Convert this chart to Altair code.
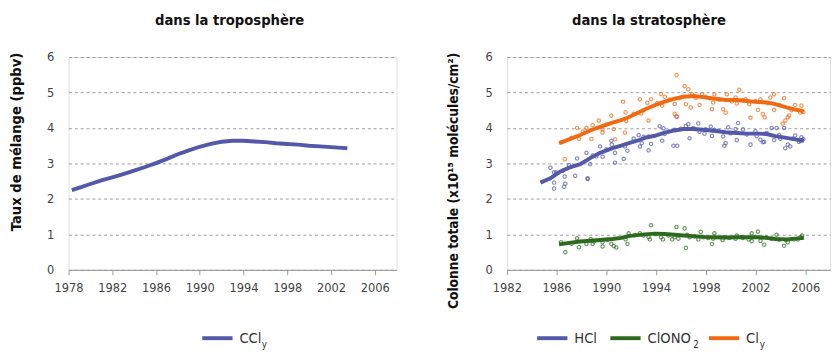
import altair as alt
import pandas as pd

FONT = "DejaVu Sans Condensed, DejaVu Sans, sans-serif"

# ---- Left panel: CCly (troposphere)
ccly_year = [1978.3, 1979.0, 1980.0, 1981.0, 1982.0, 1983.0, 1984.0, 1985.0, 1986.0, 1987.0,
             1988.0, 1989.0, 1990.0, 1991.0, 1992.0, 1993.0, 1994.0, 1995.0, 1996.0, 1997.0,
             1998.0, 1999.0, 2000.0, 2001.0, 2002.0, 2003.0, 2003.5]
ccly_val = [2.25, 2.32, 2.42, 2.52, 2.61, 2.70, 2.80, 2.90, 3.01, 3.13,
            3.26, 3.37, 3.47, 3.55, 3.61, 3.64, 3.64, 3.62, 3.60, 3.57,
            3.55, 3.53, 3.50, 3.48, 3.46, 3.44, 3.43]

# ---- Right panel: smoothed lines (stratosphere)
line_year = [1986.2, 1987.0, 1987.9, 1988.7, 1989.5, 1990.5, 1991.2, 1991.8, 1992.5, 1993.1,
             1993.9, 1994.7, 1995.5, 1996.2, 1997.0, 1997.8, 1998.6, 1999.6, 2000.5, 2001.3,
             2002.2, 2002.9, 2003.6, 2004.5, 2005.2, 2005.9]
hcl_line_year = [1984.7, 1985.5] + line_year
hcl_line_val = [2.46, 2.58, 2.75, 2.88, 2.98, 3.15, 3.30, 3.43, 3.50, 3.57, 3.64, 3.72,
                3.78, 3.87, 3.93, 3.97, 3.97, 3.95, 3.92, 3.88, 3.86, 3.84,
                3.84, 3.83, 3.77, 3.72, 3.68, 3.64]
cly_line_val = [3.57, 3.68, 3.80, 3.93, 4.03, 4.15, 4.22, 4.30, 4.42, 4.52,
                4.64, 4.74, 4.83, 4.88, 4.90, 4.87, 4.83, 4.79, 4.79, 4.76,
                4.73, 4.72, 4.67, 4.58, 4.52, 4.47]
clono2_line_val = [0.72, 0.76, 0.80, 0.82, 0.84, 0.87, 0.90, 0.95, 0.98, 1.00,
                   1.02, 1.01, 0.99, 0.97, 0.95, 0.93, 0.92, 0.91, 0.92, 0.92,
                   0.92, 0.90, 0.87, 0.86, 0.88, 0.90]

# ---- Right panel: individual measurements
hcl_pt_year = [1985.5, 1985.95, 1986.5, 1986.65, 1987.5, 1987.65, 1988.4, 1988.5, 1988.7, 1988.9,
               1989.5, 1989.7, 1990.4, 1990.45, 1990.7, 1990.7, 1991.4, 1991.5, 1991.7, 1992.6,
               1992.7, 1992.85, 1993.4, 1993.4, 1993.6, 1994.3, 1994.5, 1994.6, 1994.7, 1995.4,
               1995.7, 1995.65, 1995.5, 1996.4, 1996.7, 1996.6, 1997.4, 1997.5, 1997.9, 1998.4,
               1998.5, 1998.7, 1999.4, 1999.5, 1999.6, 1999.8, 2000.4, 2000.6, 2000.5, 2001.0,
               2001.6, 2002.0, 2002.1, 2002.4, 2002.6, 2002.7, 2003.3, 2003.5, 2003.7, 2004.3,
               2004.4, 2004.6, 2004.8, 2005.2, 2005.5, 2005.7, 2005.6, 1985.8, 1985.8, 1985.8,
               1986.6, 1986.7, 1988.5, 1987.0, 1989.2, 1990.0, 1992.2, 1993.0, 1995.0, 1996.0,
               1997.0, 1998.0, 1999.0, 2000.0, 2001.3, 2002.9, 2003.9, 2004.0, 2005.0, 2005.85]
hcl_pt_val = [2.88, 2.75, 2.80, 2.63, 2.65, 3.14, 3.30, 2.56, 2.98, 3.22,
              3.48, 3.19, 3.64, 3.53, 3.30, 3.02, 3.13, 3.48, 3.36, 3.80,
              3.48, 3.57, 3.37, 3.76, 3.55, 4.05, 3.64, 3.99, 3.83, 3.50,
              3.50, 4.32, 3.95, 4.05, 3.71, 4.11, 4.13, 3.89, 3.84, 4.04,
              3.78, 3.95, 3.76, 3.50, 3.57, 4.02, 3.97, 4.14, 3.66, 3.96,
              3.53, 3.91, 3.77, 3.67, 3.60, 3.61, 4.00, 3.66, 4.00, 4.00,
              3.43, 3.53, 3.48, 3.79, 3.61, 3.74, 3.64, 2.29, 2.46, 2.75,
              2.34, 2.43, 2.58, 2.95, 3.20, 3.40, 3.70, 3.75, 3.90, 3.98,
              4.00, 3.96, 3.92, 3.85, 3.82, 3.86, 3.80, 3.70, 3.70, 3.68]

cly_pt_year = [1986.66, 1987.65, 1987.8, 1988.4, 1988.8, 1988.9, 1989.4, 1989.7, 1989.7, 1990.4,
               1990.6, 1990.7, 1991.35, 1991.55, 1991.6, 1991.5, 1992.7, 1992.8, 1993.4, 1993.3,
               1993.6, 1994.4, 1994.5, 1994.7, 1995.5, 1995.65, 1995.7, 1995.5, 1995.9, 1996.3,
               1996.6, 1996.4, 1996.8, 1996.9, 1997.5, 1997.7, 1998.3, 1998.5, 1998.6, 1998.7,
               1999.4, 1999.6, 1999.7, 2000.4, 2000.5, 2000.7, 2001.2, 2001.5, 2001.6, 2002.2,
               2002.4, 2002.6, 2002.75, 2003.2, 2003.5, 2003.5, 2004.3, 2004.2, 2004.4, 2004.6,
               2004.7, 2005.2, 2005.6, 2005.7, 1986.4, 1987.2, 1988.1, 1990.0, 1992.2, 1993.0,
               1994.1, 1995.1, 1997.2, 1998.0, 1999.1, 2000.1, 2001.0, 2002.0, 2003.0, 2003.9,
               2004.9, 2005.85]
cly_pt_val = [3.12, 4.00, 3.69, 4.00, 3.69, 4.08, 4.21, 3.96, 3.87, 4.35,
              3.97, 3.68, 4.74, 4.44, 4.19, 3.87, 4.81, 4.41, 4.21, 4.71,
              4.81, 4.96, 4.63, 4.88, 4.40, 5.49, 4.32, 4.68, 4.84, 5.18,
              5.09, 4.67, 4.58, 4.95, 4.65, 4.95, 4.84, 4.53, 4.72, 4.95,
              4.53, 4.43, 4.95, 4.86, 4.69, 5.08, 4.81, 4.67, 4.29, 4.51,
              4.81, 4.39, 4.30, 4.86, 4.95, 4.51, 4.84, 4.12, 4.21, 4.30,
              4.35, 4.65, 4.44, 4.63, 3.60, 3.72, 3.90, 4.10, 4.40, 4.50,
              4.70, 4.80, 4.85, 4.88, 4.80, 4.75, 4.78, 4.76, 4.70, 4.65,
              4.50, 4.45]

clono2_pt_year = [1986.35, 1986.7, 1987.65, 1987.8, 1988.4, 1988.75, 1988.9, 1989.7, 1989.7, 1990.4,
                  1990.6, 1990.8, 1991.55, 1991.7, 1991.8, 1992.7, 1993.4, 1993.5, 1993.6, 1994.0,
                  1994.4, 1994.55, 1995.3, 1995.5, 1995.65, 1995.8, 1996.3, 1996.4, 1996.5, 1996.7,
                  1997.4, 1997.6, 1997.8, 1998.5, 1998.6, 1998.7, 1999.35, 1999.5, 2000.4, 2000.5,
                  2001.0, 2001.45, 2001.7, 2001.7, 2002.2, 2002.4, 2002.7, 2003.3, 2003.7, 2004.3,
                  2004.45, 2004.6, 2005.4, 2005.6, 2005.75, 1987.2, 1989.0, 1990.1, 1992.3, 1993.0,
                  1995.0, 1997.1, 1998.2, 1999.9, 2000.9, 2002.9, 2003.9, 2005.1]
clono2_pt_val = [0.78, 0.50, 0.89, 0.64, 0.73, 0.87, 0.73, 0.78, 0.66, 0.73,
                 0.67, 0.63, 0.86, 0.73, 1.03, 1.03, 0.92, 0.86, 1.26, 1.01,
                 0.92, 0.86, 0.86, 0.92, 1.21, 0.88, 1.17, 0.62, 0.99, 0.92,
                 0.86, 1.07, 0.92, 0.73, 0.88, 1.03, 0.84, 0.92, 0.88, 0.97,
                 0.90, 0.86, 0.81, 1.03, 1.08, 0.82, 0.71, 0.88, 0.99, 0.68,
                 0.84, 0.78, 0.86, 0.92, 0.97, 0.74, 0.80, 0.85, 0.98, 0.97,
                 0.97, 0.94, 0.90, 0.90, 0.92, 0.91, 0.85, 0.86]

left_ticks = [1978, 1982, 1986, 1990, 1994, 1998, 2002, 2006]
right_ticks = [1982, 1986, 1990, 1994, 1998, 2002, 2006]
y_ticks = [0, 1, 2, 3, 4, 5, 6]

series_names = ["HCl", "ClONO2", "Cly"]
series_colors = ["#5458A8", "#2C6B1E", "#F06A14"]
BLUE, GREEN, ORANGE = series_colors

# ---------- data frames
df_ccly = pd.DataFrame({"year": ccly_year, "val": ccly_val})
df_lines = pd.concat([
    pd.DataFrame({"year": hcl_line_year, "val": hcl_line_val, "s": "HCl"}),
    pd.DataFrame({"year": line_year, "val": clono2_line_val, "s": "ClONO2"}),
    pd.DataFrame({"year": line_year, "val": cly_line_val, "s": "Cly"}),
])
df_pts = pd.concat([
    pd.DataFrame({"year": hcl_pt_year, "val": hcl_pt_val, "s": "HCl"}),
    pd.DataFrame({"year": clono2_pt_year, "val": clono2_pt_val, "s": "ClONO2"}),
    pd.DataFrame({"year": cly_pt_year, "val": cly_pt_val, "s": "Cly"}),
])
one = pd.DataFrame({"k": [0]})

W_L, W_R, H = 336, 331, 218
color_scale = alt.Scale(domain=series_names, range=series_colors)


def x_axis(ticks):
    return alt.Axis(values=ticks, format="d", grid=False, tickSize=5, tickColor="#999",
                    domainColor="#999", labelColor="#444", labelFont=FONT, labelFontSize=13,
                    labelPadding=7, labelFlush=False, title=None)


def y_axis(title, size, tx):
    return alt.Axis(values=y_ticks, grid=True, gridDash=[3, 3], gridColor="#999",
                    domain=False, ticks=False, labelPadding=15, labelColor="#444",
                    labelFont=FONT, labelFontSize=13, labelFlush=False, title=title,
                    titleFont=FONT, titleFontSize=size, titleFontWeight="bold",
                    titleColor="#111", titleX=tx, titleY=-5, titleAlign="right",
                    titleBaseline="bottom")


def legend_item(x0, label, color, sub="", sub_dx=0):
    items = [
        alt.Chart(one).mark_rule(color=color, strokeWidth=4).encode(
            x=alt.value(x0), x2=alt.value(x0 + 31), y=alt.value(288)),
        alt.Chart(one).mark_text(align="left", baseline="middle", font=FONT,
                                 fontSize=15, color="#333").encode(
            x=alt.value(x0 + 38), y=alt.value(288), text=alt.value(label)),
    ]
    if sub:
        items.append(alt.Chart(one).mark_text(align="left", baseline="middle", font=FONT,
                                              fontSize=10, color="#333").encode(
            x=alt.value(x0 + 38 + sub_dx), y=alt.value(295), text=alt.value(sub)))
    return items


left_line = alt.Chart(df_ccly).mark_line(color=BLUE, strokeWidth=4).encode(
    x=alt.X("year:Q", scale=alt.Scale(domain=[1978, 2008], nice=False, zero=False),
            axis=x_axis(left_ticks)),
    y=alt.Y("val:Q", scale=alt.Scale(domain=[0, 6], nice=False),
            axis=y_axis("Taux de mélange (ppbv)", 15, -46)),
)
left = alt.layer(left_line, *legend_item(137, "CCl", BLUE, "y", 23)).properties(
    width=W_L, height=H,
    title=alt.TitleParams("dans la troposphère", font=FONT, fontSize=15, fontWeight="bold",
                          color="#111", anchor="middle", frame="group",
                          baseline="alphabetic", offset=12, dx=-3),
)

xr = alt.X("year:Q", scale=alt.Scale(domain=[1982, 2008], nice=False, zero=False),
           axis=x_axis(right_ticks))
yr = alt.Y("val:Q", scale=alt.Scale(domain=[0, 6], nice=False),
           axis=y_axis("Colonne totale (x10¹⁵ molécules/cm²)", 14, -48))
pts = alt.Chart(df_pts).mark_point(filled=False, size=12, strokeWidth=1.2).encode(
    x=xr, y=yr, color=alt.Color("s:N", scale=color_scale, legend=None))
lines = alt.Chart(df_lines).mark_line(strokeWidth=4).encode(
    x=xr, y=yr, color=alt.Color("s:N", scale=color_scale, legend=None), detail="s:N")
right = alt.layer(
    pts, lines,
    *legend_item(31, "HCl", BLUE),
    *legend_item(106, "ClONO", GREEN, "2", 47),
    *legend_item(207, "Cl", ORANGE, "y", 14),
).properties(
    width=W_R, height=H,
    title=alt.TitleParams("dans la stratosphère", font=FONT, fontSize=15, fontWeight="bold",
                          color="#111", anchor="middle", frame="group",
                          baseline="alphabetic", offset=12, dx=-20),
)

chart = alt.hconcat(left, right, spacing=49).properties(padding=0).configure_view(
    stroke=None).configure(background="white")
chart.save("out.html", embed_options={"renderer": "svg", "actions": False})
